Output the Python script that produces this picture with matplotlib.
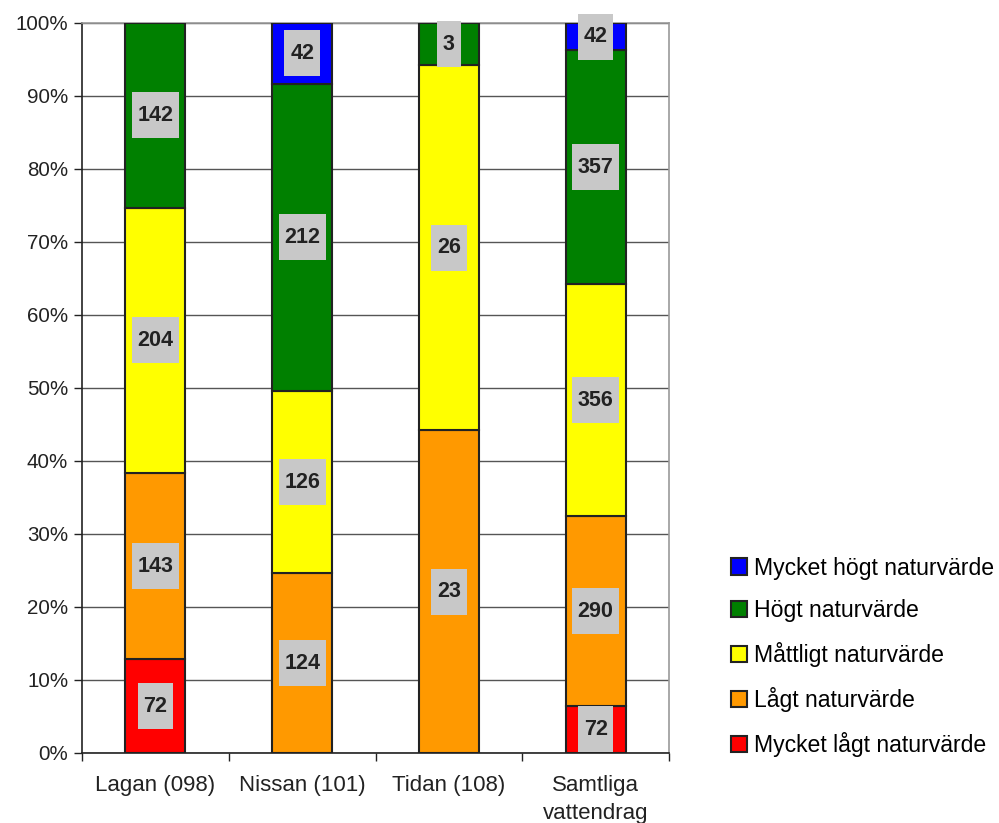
import numpy as np
import matplotlib.pyplot as plt
from matplotlib.patches import Rectangle

plt.rcParams['font.family'] = ['Liberation Sans', 'DejaVu Sans']

kategorier = ['Lagan (098)', 'Nissan (101)', 'Tidan (108)', 'Samtliga\nvattendrag']
klasser = ['Mycket lågt naturvärde', 'Lågt naturvärde', 'Måttligt naturvärde',
           'Högt naturvärde', 'Mycket högt naturvärde']
farger = ['#FF0000', '#FF9900', '#FFFF00', '#008000', '#0000FF']

mycket_lagt = [72, 0, 0, 72]
lagt = [143, 124, 23, 290]
mattligt = [204, 126, 26, 356]
hogt = [142, 212, 3, 357]
mycket_hogt = [0, 42, 0, 42]

antal = np.array([mycket_lagt, lagt, mattligt, hogt, mycket_hogt], dtype=float)
andel = antal / antal.sum(axis=0) * 100

fig = plt.figure(figsize=(9.99, 8.23), dpi=100)
ax = fig.add_axes([0.0821, 0.0851, 0.5876, 0.887])

x = np.arange(len(kategorier))
bredd = 0.41
botten = np.zeros(len(kategorier))
staplar = []
for i in range(len(klasser)):
    h = andel[i]
    synlig = h > 0
    b = ax.bar(x[synlig], h[synlig], bredd, bottom=botten[synlig], color=farger[i],
               edgecolor='#222222', linewidth=1.5, zorder=3, label=klasser[i])
    staplar.append(b)
    botten += h

# grå etiketter mitt i varje segment
px_per_kat = 0.5876 * 999 / 4
px_per_proc = 0.887 * 823 / 100
botten = np.zeros(len(kategorier))
for i in range(len(klasser)):
    for j in range(len(kategorier)):
        if antal[i, j] > 0:
            mitt = botten[j] + andel[i, j] / 2
            txt = str(int(antal[i, j]))
            w = (11.7 * len(txt) + 12) / px_per_kat
            hh = 46 / px_per_proc
            ax.add_patch(Rectangle((x[j] - w / 2, mitt - hh / 2), w, hh,
                                   facecolor='#C8C8C8', edgecolor='none',
                                   zorder=4, clip_on=False))
            ax.text(x[j], mitt, txt, ha='center', va='center', fontsize=15.5,
                    fontweight='bold', color='#222222', zorder=5)
    botten += andel[i]

ax.set_xlim(-0.5, 3.5)
ax.set_ylim(0, 100)
ax.set_yticks(np.arange(0, 101, 10))
ax.set_yticklabels([f'{v}%' for v in range(0, 101, 10)])
ax.yaxis.grid(True, color='#555555', linewidth=1, zorder=0)
ax.set_axisbelow(True)

ax.set_xticks(x)
ax.set_xticklabels(kategorier, linespacing=1.4)
ax.set_xticks(np.arange(-0.5, 4, 1), minor=True)
ax.tick_params(axis='x', which='major', length=0, pad=16, labelsize=16, colors='#222222')
ax.tick_params(axis='x', which='minor', length=6, width=1, color='#222222')
ax.tick_params(axis='y', length=6, width=1, labelsize=14.8, colors='#222222', pad=4)

ax.spines['left'].set_color('#222222')
ax.spines['bottom'].set_color('#222222')
ax.spines['top'].set_color('#999999')
ax.spines['right'].set_color('#999999')
for s in ax.spines.values():
    s.set_linewidth(1.2)

handles = staplar[::-1]
fig.legend(handles, klasser[::-1], loc='upper left', bbox_to_anchor=(0.722, 0.335),
           frameon=False, fontsize=16.6, handlelength=0.7, handleheight=0.7,
           handletextpad=0.3, labelspacing=0.86, borderaxespad=0)

fig.savefig('out.png', dpi=100)
